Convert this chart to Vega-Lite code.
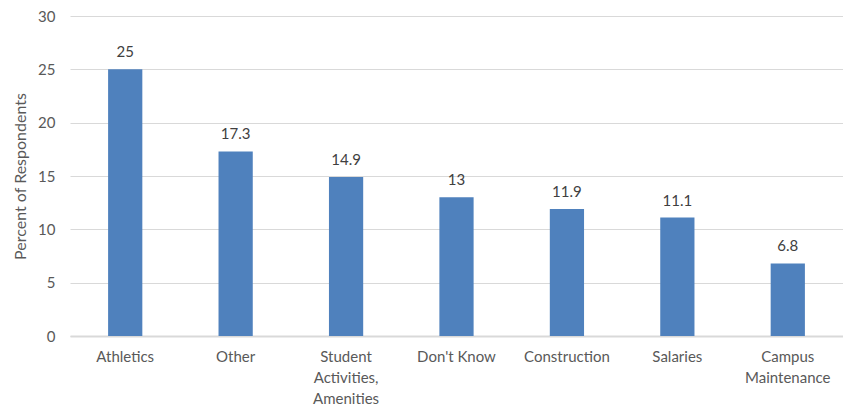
{
  "$schema": "https://vega.github.io/schema/vega-lite/v6.json",
  "autosize": {"type": "none"},
  "padding": {"left": 70, "top": 16, "right": 0, "bottom": 72},
  "width": 773,
  "height": 320,
  "background": "white",
  "config": {"view": {"stroke": null}, "font": "Lato"},
  "data": {"values": [
    {"category": "Athletics", "value": 25},
    {"category": "Other", "value": 17.3},
    {"category": "Student|Activities,|Amenities", "value": 14.9},
    {"category": "Don't Know", "value": 13},
    {"category": "Construction", "value": 11.9},
    {"category": "Salaries", "value": 11.1},
    {"category": "Campus|Maintenance", "value": 6.8}
  ]},
  "encoding": {
    "x": {"field": "category", "type": "nominal", "sort": null,
      "scale": {"paddingInner": 0.69, "paddingOuter": 0.345},
      "axis": {"title": null, "labelAngle": 0, "labelExpr": "split(datum.label, '|')",
        "labelFontSize": 15, "labelColor": "#595959", "labelPadding": 13, "labelLineHeight": 21,
        "ticks": false, "domainColor": "#d9d9d9", "domainWidth": 2, "labelFont": "Lato"}},
    "y": {"field": "value", "type": "quantitative",
      "scale": {"domain": [0, 30], "nice": false},
      "axis": {"title": "Percent of Respondents", "titleFontSize": 16, "titleFontWeight": "normal",
        "titleColor": "#595959", "titlePadding": 9, "values": [0, 5, 10, 15, 20, 25, 30],
        "labelOverlap": false,
        "labelFontSize": 15, "labelColor": "#595959", "labelPadding": 15, "ticks": false, "domain": false,
        "gridColor": "#d9d9d9", "titleFont": "Lato", "labelFont": "Lato"}}
  },
  "layer": [
    {"mark": {"type": "bar", "color": "#4F81BD"}},
    {"mark": {"type": "text", "baseline": "bottom", "dy": -9, "fontSize": 15, "color": "#404040", "font": "Lato"},
     "encoding": {"text": {"field": "value", "type": "quantitative"}}}
  ]
}
